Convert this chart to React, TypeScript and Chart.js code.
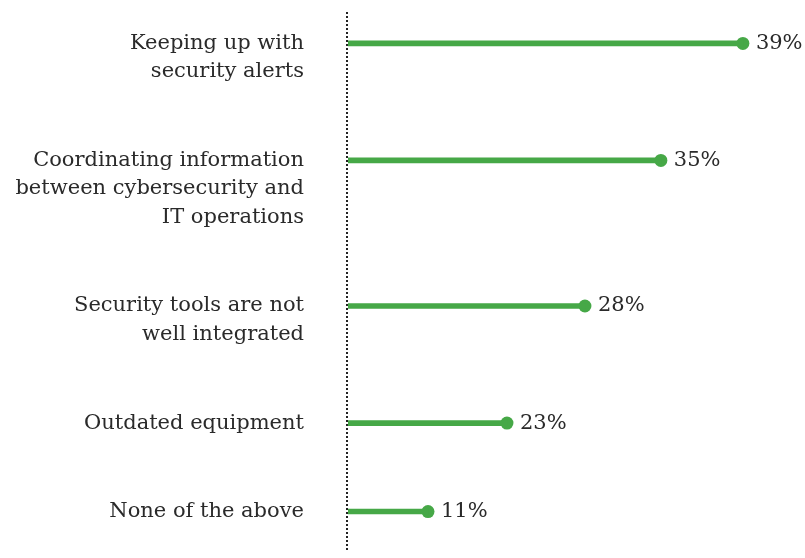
import React, { useEffect, useRef } from "react";
import { Chart, registerables } from "chart.js";

Chart.register(...registerables);

// Category labels (each inner array = lines of the label)
const categories: string[][] = [
  ["Keeping up with", "security alerts"],
  ["Coordinating information", "between cybersecurity and", "IT operations"],
  ["Security tools are not", "well integrated"],
  ["Outdated equipment"],
  ["None of the above"],
];
// Percentages printed next to each dot
const percentValues: number[] = [39, 35, 28, 23, 11];
// Lollipop lengths as drawn in the reference (in the same units as 39%)
const drawnLengths: number[] = [39, 30.9, 23.4, 15.7, 7.9];

const GREEN = "#46a847";
const TEXT = "#2a2a2a";
const FONT = "DejaVu Serif";
const FONT_SIZE = 21;
const ROW_GAP = 2.1; // blank rows between groups

// row positions derived from label line counts
const positions: number[] = [];
const lineTicks: number[] = [];
const lineTexts: string[] = [];
{
  let acc = 0;
  categories.forEach((lines) => {
    positions.push(acc);
    lines.forEach((t, j) => {
      lineTicks.push(acc + j);
      lineTexts.push(t);
    });
    acc += lines.length + ROW_GAP;
  });
}

const dottedAxis = {
  id: "dottedAxis",
  beforeDatasetsDraw(chart: any) {
    const { ctx, chartArea } = chart;
    ctx.save();
    ctx.strokeStyle = "#222";
    ctx.lineWidth = 2;
    ctx.setLineDash([2, 2]);
    ctx.beginPath();
    ctx.moveTo(chartArea.left - 1, chartArea.top);
    ctx.lineTo(chartArea.left - 1, chartArea.bottom);
    ctx.stroke();
    ctx.restore();
  },
};

const valueLabels = {
  id: "valueLabels",
  afterDatasetsDraw(chart: any) {
    const meta = chart.getDatasetMeta(1);
    const ctx = chart.ctx;
    ctx.save();
    ctx.font = `${FONT_SIZE}px "${FONT}"`;
    ctx.fillStyle = TEXT;
    ctx.textAlign = "left";
    ctx.textBaseline = "middle";
    meta.data.forEach((pt: any, i: number) => {
      ctx.fillText(`${percentValues[i]}%`, pt.x + 13, pt.y);
    });
    ctx.restore();
  },
};

export default function App() {
  const ref = useRef<HTMLCanvasElement | null>(null);
  useEffect(() => {
    if (!ref.current) return;
    const chart = new Chart(ref.current, {
      type: "bar",
      data: {
        datasets: [
          {
            type: "bar",
            data: drawnLengths.map((v, i) => ({ x: v, y: positions[i] })) as any,
            backgroundColor: GREEN,
            barThickness: 5,
            borderWidth: 0,
          } as any,
          {
            type: "scatter",
            data: drawnLengths.map((v, i) => ({ x: v, y: positions[i] })) as any,
            backgroundColor: GREEN,
            borderWidth: 0,
            pointRadius: 6.5,
            pointHoverRadius: 6.5,
          } as any,
        ],
      },
      options: {
        indexAxis: "y",
        animation: false,
        responsive: false,
        maintainAspectRatio: false,
        layout: { padding: { top: 12, bottom: 5, right: 52, left: 0 } },
        plugins: {
          legend: { display: false },
          tooltip: { enabled: false },
        },
        scales: {
          x: {
            type: "linear",
            min: 0,
            max: 40,
            display: false,
          },
          y: {
            type: "linear",
            reverse: true,
            offset: false,
            min: -1.1,
            max: 17.8,
            grid: { display: false, drawTicks: false },
            border: { display: false },
            afterFit: (scale: any) => {
              scale.width = 348;
              scale.paddingTop = 0;
              scale.paddingBottom = 0;
            },
            afterBuildTicks: (scale: any) => {
              scale.ticks = lineTicks.map((v) => ({ value: v }));
            },
            ticks: {
              autoSkip: false,
              padding: 44,
              color: TEXT,
              font: { family: FONT, size: FONT_SIZE },
              callback: (_v: any, i: number) => lineTexts[i],
            },
          },
        },
      } as any,
      plugins: [dottedAxis, valueLabels],
    });
    return () => chart.destroy();
  }, []);
  return (
    <div style={{ position: "fixed", left: 0, top: 0, width: 805, height: 558 }}>
      <canvas ref={ref} width={805} height={558} style={{ width: 805, height: 558, display: "block" }} />
    </div>
  );
}
